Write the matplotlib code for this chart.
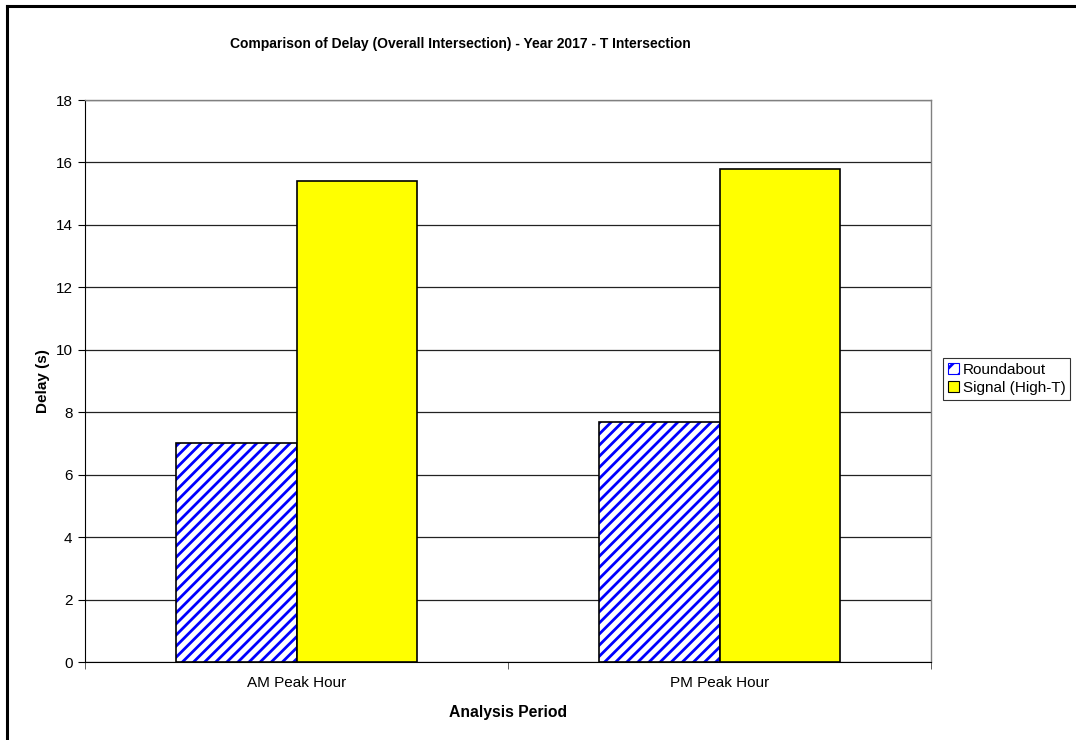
import matplotlib
matplotlib.use("Agg")
import matplotlib.pyplot as plt
from matplotlib.patches import Patch
from matplotlib.lines import Line2D
import numpy as np

periods = ["AM Peak Hour", "PM Peak Hour"]
roundabout = [7.0, 7.7]
signal = [15.4, 15.8]
series_names = ["Roundabout", "Signal (High-T)"]
y_ticks = [0, 2, 4, 6, 8, 10, 12, 14, 16, 18]

plt.rcParams["font.family"] = ["Liberation Sans", "DejaVu Sans"]
plt.rcParams["hatch.linewidth"] = 2.0

W, H = 1076, 740
fig = plt.figure(figsize=(W / 100, H / 100), dpi=100)
ax = fig.add_axes([85 / W, 1 - 662 / H, (931 - 85) / W, (662 - 100) / H])

x = np.arange(len(periods))
bw = 0.286

# hatched roundabout bars: blue stripes, then a black outline on top
ax.bar(x - bw / 2, roundabout, bw, facecolor="white", edgecolor="#0000ff",
       hatch="///", linewidth=0, zorder=3)
ax.bar(x - bw / 2, roundabout, bw, facecolor="none", edgecolor="black",
       linewidth=1.2, zorder=4)
ax.bar(x + bw / 2, signal, bw, facecolor="#ffff00", edgecolor="black",
       linewidth=1.2, zorder=4)

ax.set_xlim(-0.5, 1.5)
ax.set_ylim(0, 18)
ax.set_yticks(y_ticks)
ax.yaxis.grid(True, color="#222222", linewidth=0.9, zorder=1)
ax.set_axisbelow(True)

ax.set_xticks(x)
ax.set_xticklabels(periods, fontsize=11)
ax.tick_params(axis="x", length=0, pad=10)
ax.set_xticks([-0.5, 0.5, 1.5], minor=True)
ax.tick_params(axis="x", which="minor", length=5, direction="out", color="#444444")
ax.tick_params(axis="y", length=5, direction="out", labelsize=11, pad=4)

for side in ("top", "right"):
    ax.spines[side].set_color("#808080")
    ax.spines[side].set_linewidth(1.0)
ax.spines["left"].set_color("black")
ax.spines["bottom"].set_color("black")

ax.set_xlabel("Analysis Period", fontsize=11.3, fontweight="bold", labelpad=11)
ax.set_ylabel("Delay (s)", fontsize=11, fontweight="bold", labelpad=4)
fig.text(460 / W, 1 - 44 / H,
         "Comparison of Delay (Overall Intersection) - Year 2017 - T Intersection",
         ha="center", va="center", fontsize=10, fontweight="bold")

handles = [Patch(facecolor="white", edgecolor="#0000ff", hatch="//", linewidth=0.8),
           Patch(facecolor="#ffff00", edgecolor="black", linewidth=0.8)]
leg = fig.legend(handles, series_names, loc="upper left",
                 bbox_to_anchor=(943 / W, 1 - 358 / H), fontsize=11,
                 frameon=True, fancybox=False, edgecolor="black",
                 handlelength=0.75, handleheight=0.75, handletextpad=0.25,
                 borderpad=0.3, labelspacing=0.3, borderaxespad=0)
leg.get_frame().set_linewidth(0.8)

# outer chart frame (top and left edges)
fig.add_artist(Line2D([7 / W, 1.0], [1 - 6 / H, 1 - 6 / H], color="black", linewidth=2.2))
fig.add_artist(Line2D([7 / W, 7 / W], [0.0, 1 - 6 / H], color="black", linewidth=2.2))

fig.savefig("out.png", dpi=100)
